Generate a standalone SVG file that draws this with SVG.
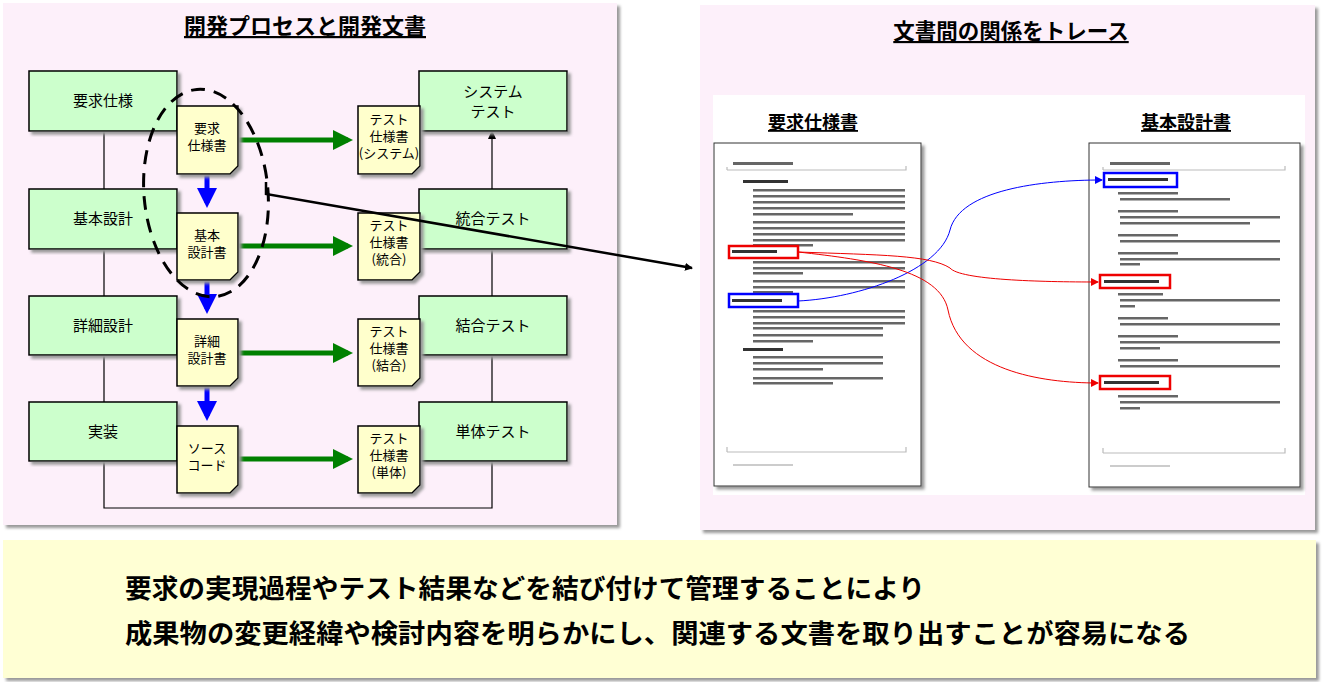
<svg xmlns="http://www.w3.org/2000/svg" width="1322" height="682" viewBox="0 0 1322 682">
<style>
text{font-family:"Noto Sans CJK JP","Noto Sans",sans-serif;fill:#000}
.g{fill:#ccffcc;stroke:#000;stroke-width:1.5}
.d{fill:#ffffcc;stroke:#000;stroke-width:1.5}
.gt{font-size:15px;text-anchor:middle}
.dt{font-size:13px;text-anchor:middle}
.ln{stroke:#000;stroke-width:1.2;fill:none}
.tx{fill:#666}
.hd{fill:#333}
</style>
<defs>
<marker id="ga" markerWidth="4" markerHeight="4" refX="3" refY="2" orient="auto" markerUnits="strokeWidth"><path d="M0,0L4,2L0,4z" fill="#008000"/></marker>
<marker id="ba" markerWidth="4" markerHeight="4" refX="3" refY="2" orient="auto" markerUnits="strokeWidth"><path d="M0,0L4,2L0,4z" fill="#0000ff"/></marker>
<marker id="ka" markerWidth="8" markerHeight="8" refX="7" refY="4" orient="auto" markerUnits="userSpaceOnUse"><path d="M0,0L8,4L0,8z" fill="#000"/></marker>
<marker id="ra" markerWidth="8" markerHeight="8" refX="7" refY="4" orient="auto" markerUnits="userSpaceOnUse"><path d="M0,0L8,4L0,8z" fill="#e00"/></marker>
<marker id="bb" markerWidth="8" markerHeight="8" refX="7" refY="4" orient="auto" markerUnits="userSpaceOnUse"><path d="M0,0L8,4L0,8z" fill="#00f"/></marker>
<filter id="sh"><feDropShadow dx="3" dy="3" stdDeviation="1.5" flood-color="#999"/></filter>
</defs>
<rect width="1322" height="682" fill="#fff"/>
<rect x="3" y="3" width="614" height="522" fill="#fdf0fa" filter="url(#sh)"/>
<rect x="700" y="5" width="615" height="525" fill="#fdf0fa" filter="url(#sh)"/>
<rect x="3" y="540" width="1313" height="138" fill="#ffffd4" filter="url(#sh)"/>
<text x="305" y="34" font-size="22" font-weight="bold" text-anchor="middle" text-decoration="underline">開発プロセスと開発文書</text>
<text x="1011" y="39" font-size="21.5" font-weight="bold" text-anchor="middle" text-decoration="underline">文書間の関係をトレース</text>
<g id="connectors">
<path class="ln" d="M104,131V189M104,249V296M104,355V402M104,461V508H492V461M492,402V355M492,296V249M492,189V137"/>
<path d="M488,139L492,130L496,139z"/>
<g stroke="#008000" stroke-width="5" marker-end="url(#ga)">
<line x1="238" y1="140" x2="348" y2="140"/><line x1="238" y1="246" x2="348" y2="246"/><line x1="238" y1="353" x2="348" y2="353"/><line x1="238" y1="459" x2="348" y2="459"/></g>
<g stroke="#0000ff" stroke-width="5" marker-end="url(#ba)">
<line x1="207" y1="174" x2="207" y2="203"/><line x1="207" y1="280" x2="207" y2="309"/><line x1="207" y1="386" x2="207" y2="416"/></g>
</g>
<g id="left-green">
<rect class="g" x="29" y="71" width="148" height="60" filter="url(#sh)"/><text class="gt" x="103" y="106">要求仕様</text>
<rect class="g" x="29" y="189" width="148" height="60" filter="url(#sh)"/><text class="gt" x="103" y="224">基本設計</text>
<rect class="g" x="29" y="296" width="148" height="59" filter="url(#sh)"/><text class="gt" x="103" y="331">詳細設計</text>
<rect class="g" x="29" y="402" width="148" height="59" filter="url(#sh)"/><text class="gt" x="103" y="437">実装</text>
</g>
<g id="right-green">
<rect class="g" x="419" y="71" width="148" height="60" filter="url(#sh)"/><text class="gt" x="493" y="97">システム</text><text class="gt" x="493" y="117">テスト</text>
<rect class="g" x="419" y="189" width="148" height="60" filter="url(#sh)"/><text class="gt" x="493" y="224">統合テスト</text>
<rect class="g" x="419" y="296" width="148" height="59" filter="url(#sh)"/><text class="gt" x="493" y="331">結合テスト</text>
<rect class="g" x="419" y="402" width="148" height="59" filter="url(#sh)"/><text class="gt" x="493" y="437">単体テスト</text>
</g>
<g id="docs">
<g filter="url(#sh)">
<path class="d" d="M177,106H238V166L230,174H177Z"/><path class="d" d="M177,213H238V272L230,280H177Z"/><path class="d" d="M177,319H238V378L230,386H177Z"/><path class="d" d="M177,426H238V485L230,493H177Z"/>
<path class="d" d="M358,106H420V166L412,174H358Z"/><path class="d" d="M358,213H420V272L412,280H358Z"/><path class="d" d="M358,319H420V378L412,386H358Z"/><path class="d" d="M358,426H420V485L412,493H358Z"/>
</g>
<text class="dt" x="207" y="133">要求</text><text class="dt" x="207" y="150">仕様書</text>
<text class="dt" x="207" y="240">基本</text><text class="dt" x="207" y="257">設計書</text>
<text class="dt" x="207" y="346">詳細</text><text class="dt" x="207" y="363">設計書</text>
<text class="dt" x="207" y="453">ソース</text><text class="dt" x="207" y="470">コード</text>
<text class="dt" x="389" y="124">テスト</text><text class="dt" x="389" y="141">仕様書</text><text class="dt" x="389" y="158" font-size="11">(システム)</text>
<text class="dt" x="389" y="230">テスト</text><text class="dt" x="389" y="247">仕様書</text><text class="dt" x="389" y="264">(統合)</text>
<text class="dt" x="389" y="336">テスト</text><text class="dt" x="389" y="353">仕様書</text><text class="dt" x="389" y="370">(結合)</text>
<text class="dt" x="389" y="443">テスト</text><text class="dt" x="389" y="460">仕様書</text><text class="dt" x="389" y="477">(単体)</text>
</g>
<ellipse cx="206" cy="193" rx="62" ry="104" fill="none" stroke="#000" stroke-width="3" stroke-dasharray="14,9" transform="rotate(-5 206 193)"/>
<path d="M266,182V194L692,268" fill="none" stroke="#000" stroke-width="2.5" marker-end="url(#ka)"/>
<g id="right-area">
<rect x="713" y="95" width="592" height="400" fill="#fff"/>
<text x="813" y="129" font-size="18" font-weight="bold" text-anchor="middle" text-decoration="underline">要求仕様書</text>
<text x="1186" y="129" font-size="18" font-weight="bold" text-anchor="middle" text-decoration="underline">基本設計書</text>
<rect x="714" y="143" width="207" height="343" fill="#fff" stroke="#333" filter="url(#sh)"/>
<rect x="1089" y="143" width="211" height="344" fill="#fff" stroke="#333" filter="url(#sh)"/>
<g stroke="#bbb" stroke-width="1.2" fill="none">
<path d="M727,170V167M727,170H906V166M727,452V447M727,452H906V447"/>
<path d="M1103,170V167M1103,170H1285V166M1103,453V448M1103,453H1285V448"/>
</g>
<g class="tx">
<rect x="733" y="162" width="60" height="3"/><rect x="1110" y="162" width="60" height="3"/>
<rect x="743" y="180" width="45" height="3" class="hd"/>
<rect x="753" y="189" width="152" height="2.5"/><rect x="753" y="195" width="152" height="2.5"/><rect x="753" y="201" width="152" height="2.5"/><rect x="753" y="207" width="152" height="2.5"/><rect x="753" y="213" width="100" height="2.5"/>
<rect x="753" y="221" width="152" height="2.5"/><rect x="753" y="227" width="152" height="2.5"/><rect x="753" y="233" width="152" height="2.5"/><rect x="753" y="239" width="152" height="2.5"/><rect x="753" y="244" width="60" height="2.5"/>
<rect x="753" y="261" width="152" height="2.5"/><rect x="753" y="267" width="152" height="2.5"/><rect x="753" y="272" width="50" height="2.5"/>
<rect x="753" y="280" width="152" height="2.5"/><rect x="753" y="286" width="152" height="2.5"/><rect x="753" y="291" width="40" height="2.5"/>
<rect x="753" y="310" width="152" height="2.5"/><rect x="753" y="316" width="152" height="2.5"/><rect x="753" y="322" width="152" height="2.5"/><rect x="753" y="327" width="130" height="2.5"/>
<rect x="753" y="334" width="130" height="2.5"/><rect x="753" y="340" width="60" height="2.5"/>
<rect x="743" y="348" width="40" height="3" class="hd"/>
<rect x="753" y="356" width="130" height="2.5"/><rect x="753" y="362" width="130" height="2.5"/><rect x="753" y="368" width="70" height="2.5"/>
<rect x="753" y="377" width="130" height="2.5"/><rect x="753" y="382" width="80" height="2.5"/>
<rect x="1118" y="192" width="60" height="2.5"/><rect x="1120" y="198" width="110" height="2.5"/>
<rect x="1118" y="210" width="60" height="2.5"/><rect x="1120" y="216" width="160" height="2.5"/><rect x="1120" y="222" width="130" height="2.5"/>
<rect x="1118" y="234" width="60" height="2.5"/><rect x="1120" y="240" width="160" height="2.5"/>
<rect x="1118" y="252" width="60" height="2.5"/><rect x="1120" y="258" width="160" height="2.5"/><rect x="1120" y="263" width="20" height="2.5"/>
<rect x="1118" y="293" width="45" height="2.5"/><rect x="1120" y="299" width="160" height="2.5"/><rect x="1120" y="305" width="15" height="2.5"/>
<rect x="1118" y="317" width="50" height="2.5"/><rect x="1120" y="323" width="160" height="2.5"/>
<rect x="1118" y="335" width="60" height="2.5"/><rect x="1120" y="341" width="160" height="2.5"/><rect x="1120" y="347" width="40" height="2.5"/>
<rect x="1118" y="359" width="60" height="2.5"/><rect x="1120" y="365" width="160" height="2.5"/>
<rect x="1118" y="395" width="60" height="2.5"/><rect x="1120" y="401" width="160" height="2.5"/><rect x="1120" y="407" width="20" height="2.5"/>
<rect x="733" y="464" width="60" height="2" fill="#ccc"/><rect x="1110" y="465" width="60" height="2" fill="#ccc"/>
</g>
<g fill="none" stroke-width="2.5">
<rect x="729" y="246" width="69" height="12" stroke="#e00"/>
<rect x="729" y="294" width="69" height="13" stroke="#00f"/>
<rect x="1104" y="173" width="73" height="14" stroke="#00f"/>
<rect x="1100" y="275" width="70" height="13" stroke="#e00"/>
<rect x="1100" y="376" width="70" height="13" stroke="#e00"/>
</g>
<rect x="732" y="250" width="45" height="3" class="hd"/><rect x="732" y="299" width="50" height="3" class="hd"/>
<rect x="1108" y="178" width="60" height="3" class="hd"/><rect x="1104" y="280" width="55" height="3" class="hd"/><rect x="1104" y="381" width="55" height="3" class="hd"/>
<g fill="none" stroke-width="1">
<path d="M798,301C860,298 940,270 950,230C960,190 1040,180 1102,180" stroke="#00f" marker-end="url(#bb)"/>
<path d="M798,252C880,255 930,255 950,268C960,280 1040,282 1098,282" stroke="#e00" marker-end="url(#ra)"/>
<path d="M798,252C870,260 940,270 948,310C960,370 1040,383 1098,383" stroke="#e00" marker-end="url(#ra)"/>
</g>
</g>
<text x="125" y="598" font-size="26" font-weight="bold" textLength="800" lengthAdjust="spacingAndGlyphs">要求の実現過程やテスト結果などを結び付けて管理することにより</text>
<text x="125" y="643" font-size="26" font-weight="bold" textLength="1065" lengthAdjust="spacingAndGlyphs">成果物の変更経緯や検討内容を明らかにし、関連する文書を取り出すことが容易になる</text>
</svg>
